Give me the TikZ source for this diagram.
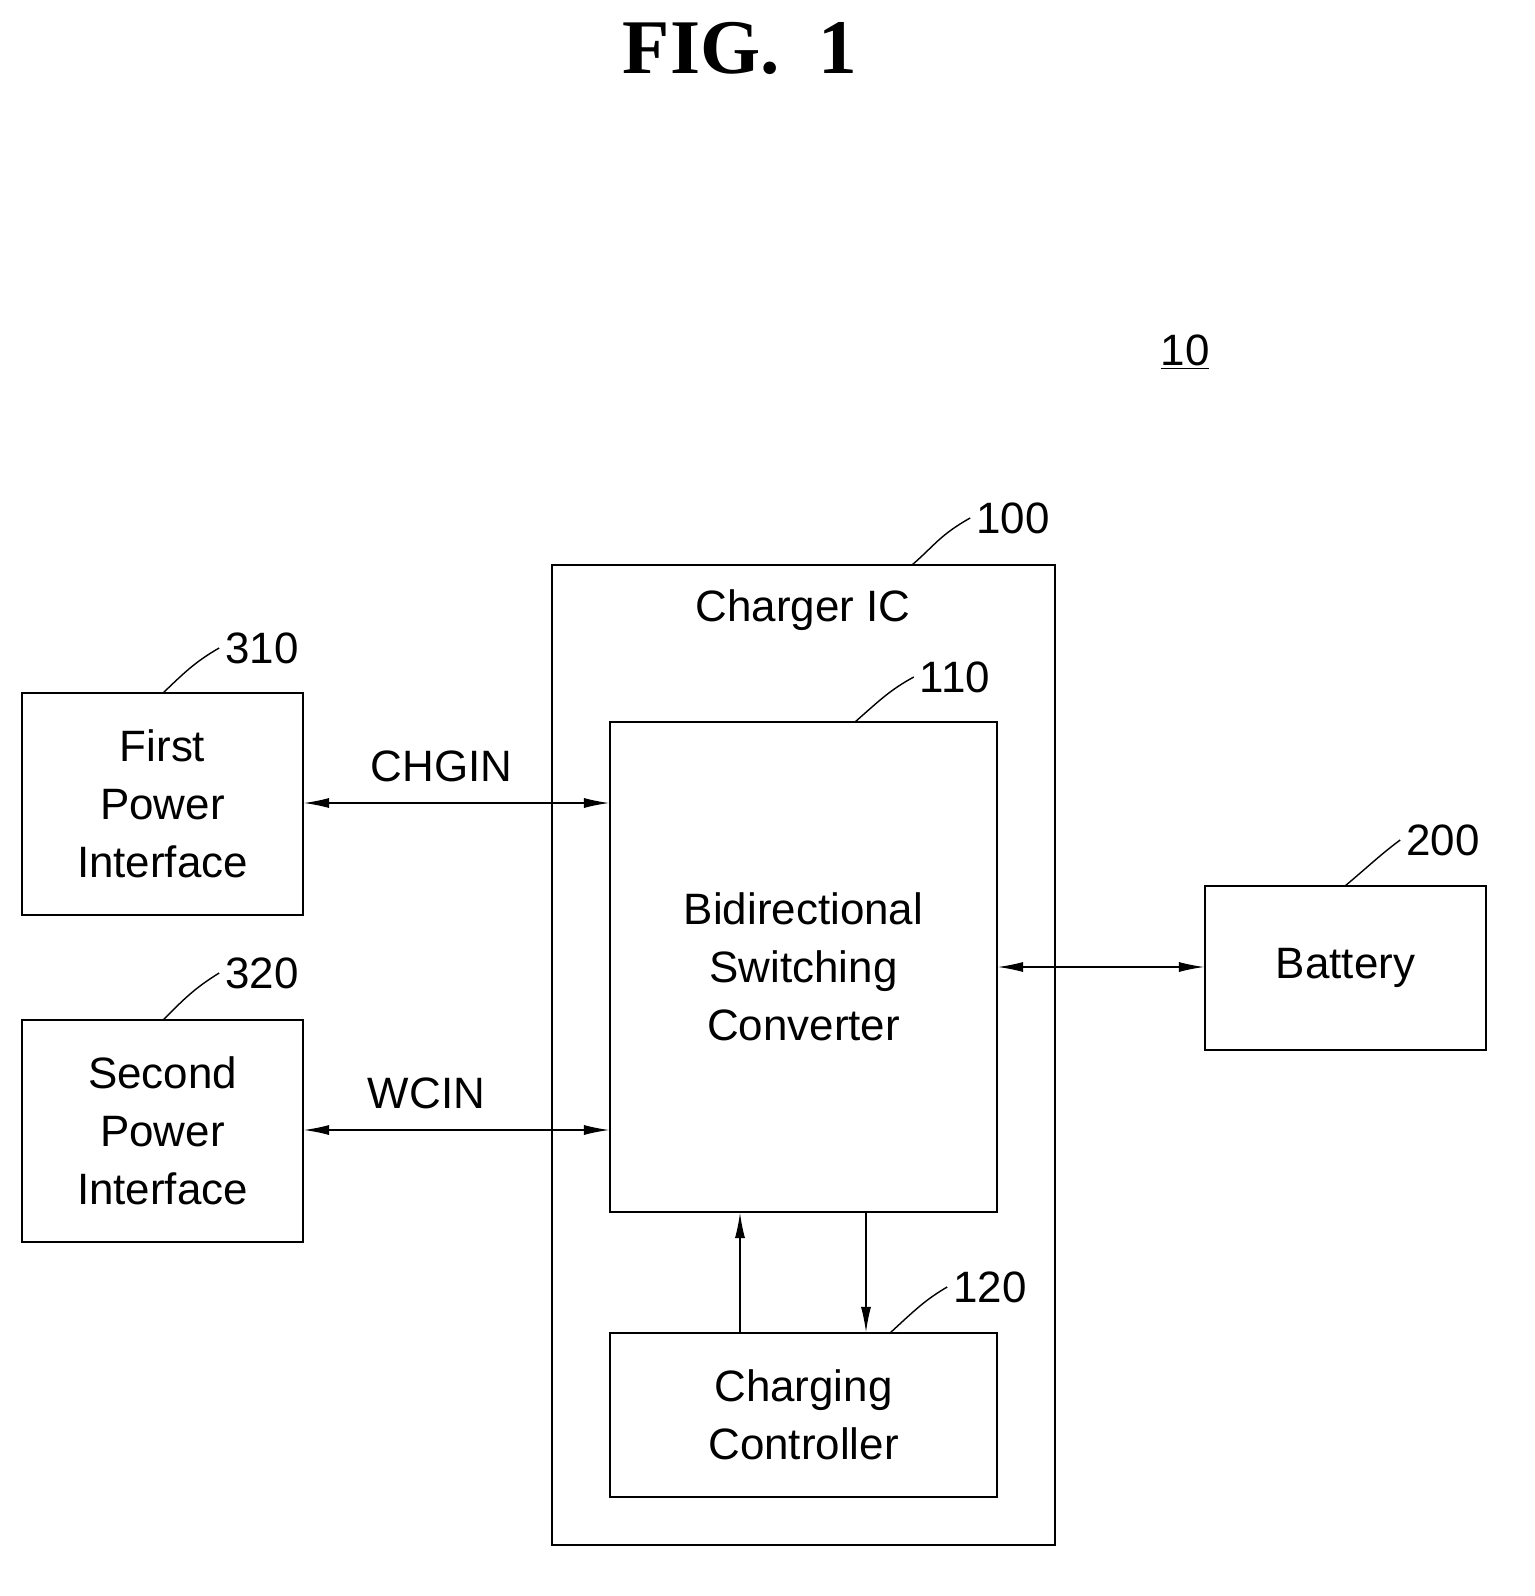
\documentclass[tikz,border=0pt]{standalone}
\usepackage{fontspec}
\setmainfont{Liberation Sans}
\newfontfamily\figfont{Liberation Serif}
\usetikzlibrary{arrows.meta}
\begin{document}
\begin{tikzpicture}[x=0.02cm,y=-0.02cm]
\tikzset{BlockStyle/.style = {draw, line width=1.2pt, align=center, inner sep=0pt,
    font=\fontsize{25}{33}\selectfont},
  LabelStyle/.style = {font=\fontsize{25}{30}\selectfont},
  LinkStyle/.style = {{Latex[length=5mm,width=2mm]}-{Latex[length=5mm,width=2mm]}, line width=0.6pt},
  OneWayStyle/.style = {-{Latex[length=5mm,width=2mm]}, line width=0.6pt},
  LeadStyle/.style = {line width=0.8pt}
}
\useasboundingbox (0,0) rectangle (1535,1596);

    % Title
    \node[font=\figfont\bfseries\fontsize{44}{50}\selectfont] (title) at (740,48) {FIG.~~1};
    \node[LabelStyle] (sys) at (1185,352) {\underline{10}};

    % Blocks
    \node[BlockStyle, minimum width=10.06cm, minimum height=19.6cm] (chg) at (803.5,1055) {};
    \node[LabelStyle] (chgtxt) at (803,610) {Charger IC};

    \node[BlockStyle, minimum width=7.74cm, minimum height=9.8cm] (conv) at (803.5,967) {Bidirectional\\Switching\\Converter};
    \node[BlockStyle, minimum width=7.74cm, minimum height=3.28cm] (ctrl) at (803.5,1415) {Charging\\Controller};
    \node[BlockStyle, minimum width=5.62cm, minimum height=4.44cm] (pi1) at (162.5,804) {First\\Power\\Interface};
    \node[BlockStyle, minimum width=5.62cm, minimum height=4.44cm] (pi2) at (162.5,1131) {Second\\Power\\Interface};
    \node[BlockStyle, minimum width=5.62cm, minimum height=3.28cm] (bat) at (1345.5,968) {Battery};

    % Links
    \draw[LinkStyle] (pi1.east |- 0,803) -- node[LabelStyle, above=3mm, xshift=-3mm] (chgin) {CHGIN} (conv.west |- 0,803);
    \draw[LinkStyle] (pi2.east |- 0,1130) -- node[LabelStyle, above=3mm, xshift=-6mm] (wcin) {WCIN} (conv.west |- 0,1130);
    \draw[LinkStyle] (conv.east |- 0,967) -- (bat.west |- 0,967);
    \draw[OneWayStyle] (ctrl.north -| 740,0) -- (conv.south -| 740,0);
    \draw[OneWayStyle] (conv.south -| 866,0) -- (ctrl.north -| 866,0);

    % Reference numerals
    \node[LabelStyle] (n100) at (1013,518) {100};
    \node[LabelStyle] (n110) at (955,677) {110};
    \node[LabelStyle] (n120) at (990,1287) {120};
    \node[LabelStyle] (n310) at (262,648) {310};
    \node[LabelStyle] (n320) at (262,973) {320};
    \node[LabelStyle] (n200) at (1443,840) {200};
    \draw[LeadStyle] (912,565) .. controls (935,545) and (940,535) .. (n100.west);
    \draw[LeadStyle] (855,722) .. controls (880,700) and (890,690) .. (n110.west);
    \draw[LeadStyle] (890,1333) .. controls (915,1310) and (925,1300) .. (n120.west);
    \draw[LeadStyle] (163,693) .. controls (185,672) and (195,662) .. (n310.west);
    \draw[LeadStyle] (163,1020) .. controls (185,998) and (195,988) .. (n320.west);
    \draw[LeadStyle] (1345,886) .. controls (1370,865) and (1380,855) .. (n200.west);
\end{tikzpicture}
\end{document}
